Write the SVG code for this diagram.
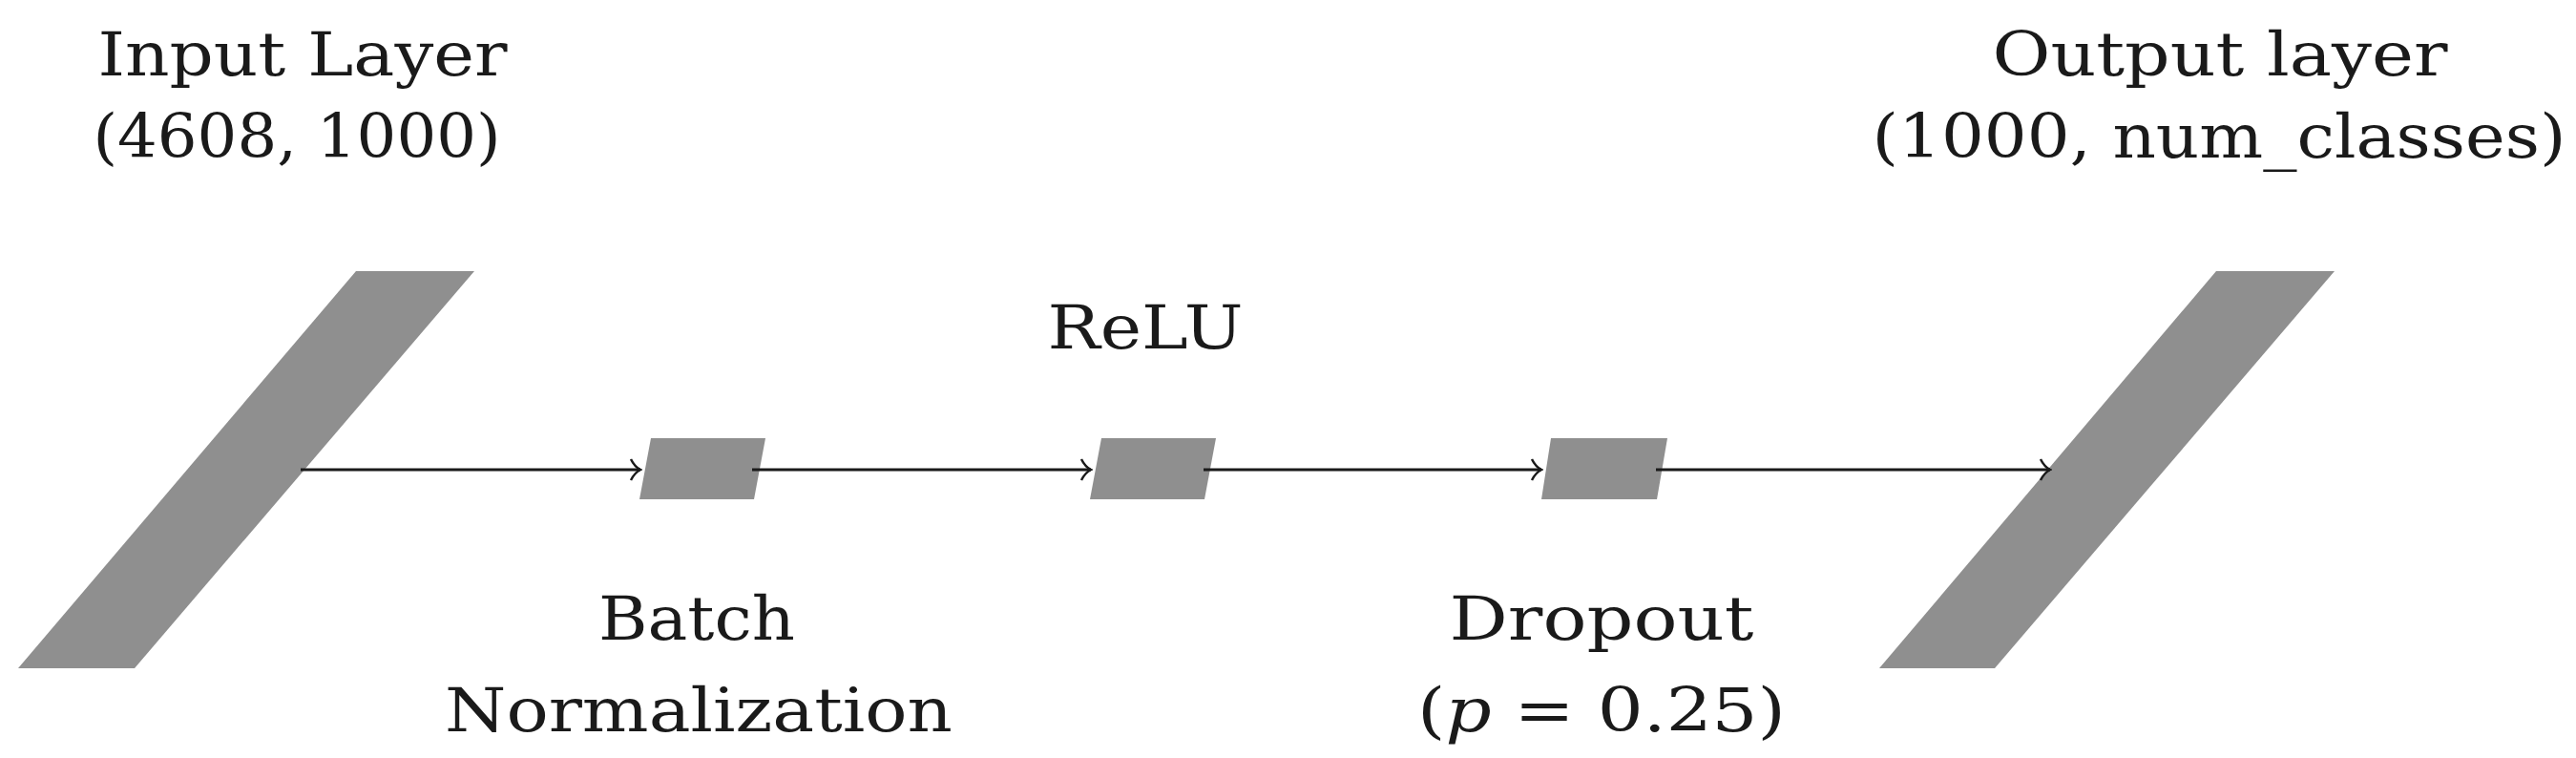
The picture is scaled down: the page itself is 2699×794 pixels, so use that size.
<svg xmlns="http://www.w3.org/2000/svg" width="2699" height="794" viewBox="0 0 2699 794">
<style>
.s{fill:#8f8f8f}
.t{font-family:"DejaVu Serif","Liberation Serif",serif;font-size:64px;fill:#1a1a1a;text-anchor:middle}
.c{stroke:#1a1a1a;stroke-width:3;fill:none}
</style>
<defs><marker id="a" markerWidth="14" markerHeight="24" refX="12" refY="12" orient="auto" markerUnits="userSpaceOnUse"><path d="M2,1 Q6,9 12,12 Q6,15 2,23" stroke="#1a1a1a" stroke-width="2.5" fill="none"/></marker></defs>
<rect width="2699" height="794" fill="#fff"/>
<g id="input"><polygon class="s" points="373,284 497,284 141,700 19,700"/><text class="t" x="317" y="79" textLength="429" lengthAdjust="spacingAndGlyphs">Input Layer</text><text class="t" x="311" y="165" textLength="427" lengthAdjust="spacingAndGlyphs">(4608, 1000)</text></g>
<g id="batchnorm"><polygon class="s" points="682,459 802,459 790,523 670,523"/><text class="t" x="730" y="670" textLength="206" lengthAdjust="spacingAndGlyphs">Batch</text><text class="t" x="732" y="766" textLength="532" lengthAdjust="spacingAndGlyphs">Normalization</text></g>
<g id="relu"><polygon class="s" points="1154,459 1274,459 1262,523 1142,523"/><text class="t" x="1200" y="365" textLength="205" lengthAdjust="spacingAndGlyphs">ReLU</text></g>
<g id="dropout"><polygon class="s" points="1625,459 1747,459 1736,523 1615,523"/><text class="t" x="1678" y="670" textLength="319" lengthAdjust="spacingAndGlyphs">Dropout</text><text class="t" x="1678" y="766" textLength="386" lengthAdjust="spacingAndGlyphs">(<tspan font-style="italic">p</tspan> = 0.25)</text></g>
<g id="output"><polygon class="s" points="2322,284 2446,284 2090,700 1969,700"/><text class="t" x="2326" y="79" textLength="477" lengthAdjust="spacingAndGlyphs">Output layer</text><text class="t" x="2325" y="165" textLength="727" lengthAdjust="spacingAndGlyphs">(1000, num_classes)</text></g>
<g id="connectors">
<line class="c" x1="315" y1="492" x2="671" y2="492" marker-end="url(#a)"/>
<line class="c" x1="788" y1="492" x2="1143" y2="492" marker-end="url(#a)"/>
<line class="c" x1="1261" y1="492" x2="1615" y2="492" marker-end="url(#a)"/>
<line class="c" x1="1735" y1="492" x2="2148" y2="492" marker-end="url(#a)"/>
</g>
</svg>
